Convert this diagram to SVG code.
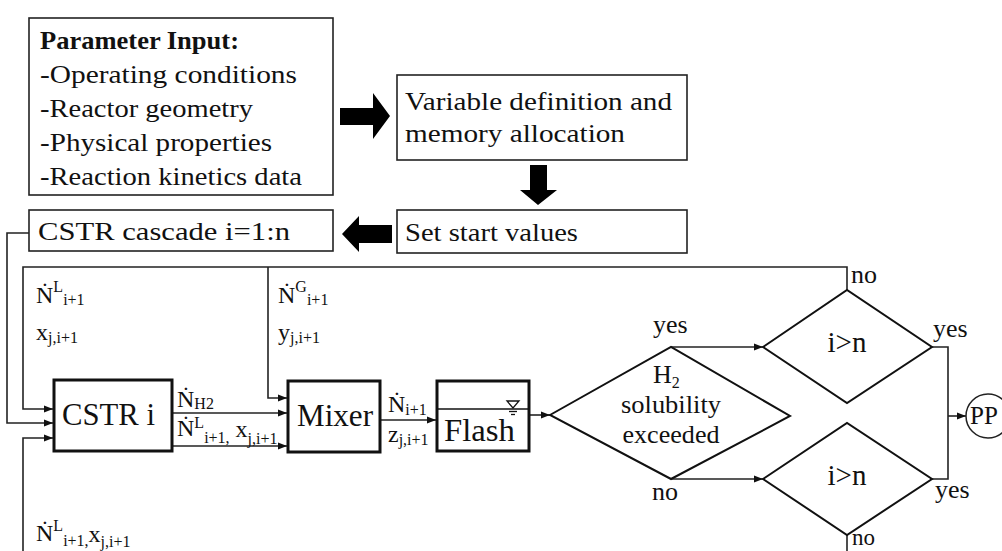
<svg xmlns="http://www.w3.org/2000/svg" width="1002" height="551" viewBox="0 0 1002 551" font-family="'Liberation Serif', 'DejaVu Serif', serif">
<style>
text{font-family:"Liberation Serif","DejaVu Serif",serif;fill:#111;}
.box{fill:#fff;stroke:#222;stroke-width:1.6;}
.tbox{fill:#fff;stroke:#111;stroke-width:3;}
.dia{fill:#fff;stroke:#111;stroke-width:2;}
.con{fill:none;stroke:#222;stroke-width:1.6;}
.big{fill:#000;}
.t26{font-size:26px;}
.t24{font-size:24px;}
.s16{font-size:16px;}
.mid{text-anchor:middle;}
</style>
<defs>
<marker id="ah" markerUnits="userSpaceOnUse" markerWidth="9" markerHeight="8" refX="9" refY="4" orient="auto">
<path d="M0,0.5 L9,4 L0,7.5 z" fill="#111"/>
</marker>
</defs>
<rect width="1002" height="551" fill="#fff"/>

<g id="connectors">
<path class="con" d="M29,233 H7 V423 H53" marker-end="url(#ah)"/>
<path class="con" d="M847,290 V267 H23 V409 H53" marker-end="url(#ah)"/>
<path class="con" d="M268,267 V398 H287" marker-end="url(#ah)"/>
<path class="con" d="M23,551 V438 H53" marker-end="url(#ah)"/>
<path class="con" d="M172,413 H287" marker-end="url(#ah)"/>
<path class="con" d="M172,446 H287" marker-end="url(#ah)"/>
<path class="con" d="M380,420 H436" marker-end="url(#ah)"/>
<path class="con" d="M529,415 H550" marker-end="url(#ah)"/>
<path class="con" d="M671,347 H763" marker-end="url(#ah)"/>
<path class="con" d="M671,479 H763" marker-end="url(#ah)"/>
<path class="con" d="M932,347 H948 V479 H932"/>
<path class="con" d="M948,416 H966" marker-end="url(#ah)"/>
<path class="con" d="M847,535 V551"/>
<polygon class="big" points="340,108 373,108 373,93 390,116 373,139 373,125 340,125"/>
<polygon class="big" points="530,165 547,165 547,190 557,190 538,205 520,190 530,190"/>
<polygon class="big" points="392,225 359,225 359,216 342,234 359,252 359,243 392,243"/>
</g>

<g id="param-input">
<rect class="box" x="29" y="18" width="304" height="177"/>
<text class="t26" x="40" y="49" font-weight="bold" textLength="199" lengthAdjust="spacingAndGlyphs">Parameter Input:</text>
<text class="t26" x="40" y="83" textLength="257" lengthAdjust="spacingAndGlyphs">-Operating conditions</text>
<text class="t26" x="40" y="117" textLength="213" lengthAdjust="spacingAndGlyphs">-Reactor geometry</text>
<text class="t26" x="40" y="151" textLength="232" lengthAdjust="spacingAndGlyphs">-Physical properties</text>
<text class="t26" x="40" y="185" textLength="262" lengthAdjust="spacingAndGlyphs">-Reaction kinetics data</text>
</g>

<g id="variable-definition">
<rect class="box" x="397" y="75" width="290" height="85"/>
<text class="t26" x="405" y="110" textLength="267" lengthAdjust="spacingAndGlyphs">Variable definition and</text>
<text class="t26" x="405" y="142" textLength="220" lengthAdjust="spacingAndGlyphs">memory allocation</text>
</g>

<g id="set-start-values">
<rect class="box" x="397" y="210" width="290" height="43"/>
<text class="t26" x="405" y="241" textLength="173" lengthAdjust="spacingAndGlyphs">Set start values</text>
</g>

<g id="cstr-cascade">
<rect class="box" x="29" y="210" width="304" height="41"/>
<text class="t26" x="38" y="240" textLength="252" lengthAdjust="spacingAndGlyphs">CSTR cascade i=1:n</text>
</g>

<g id="cstr-i">
<rect class="tbox" x="54" y="380" width="118" height="71"/>
<text x="62" y="425" font-size="31" textLength="93" lengthAdjust="spacingAndGlyphs">CSTR i</text>
</g>

<g id="mixer">
<rect class="tbox" x="288" y="381" width="92" height="71"/>
<text x="297" y="426" font-size="31" textLength="76" lengthAdjust="spacingAndGlyphs">Mixer</text>
</g>

<g id="flash">
<rect class="tbox" x="437" y="381" width="92" height="70"/>
<line x1="437" y1="409" x2="529" y2="409" stroke="#111" stroke-width="1.5"/>
<polygon points="507,401 519,401 513,408" fill="none" stroke="#111" stroke-width="1.3"/>
<line x1="509" y1="411.5" x2="517" y2="411.5" stroke="#111" stroke-width="1.3"/>
<line x1="511" y1="414.5" x2="515" y2="414.5" stroke="#111" stroke-width="1.3"/>
<text x="444" y="441" font-size="32" textLength="71" lengthAdjust="spacingAndGlyphs">Flash</text>
</g>

<g id="h2-solubility">
<polygon class="dia" points="550,415 671,347 790,416 671,479"/>
<text class="t26" x="653" y="383">H<tspan class="s16" dy="5">2</tspan></text>
<text class="t26 mid" x="671" y="413" textLength="100" lengthAdjust="spacingAndGlyphs">solubility</text>
<text class="t26 mid" x="671" y="443" textLength="97" lengthAdjust="spacingAndGlyphs">exceeded</text>
<text class="t26" x="653" y="333">yes</text>
<text class="t26" x="652" y="500">no</text>
</g>

<g id="check-upper">
<polygon class="dia" points="763,347 847,290 932,347 847,403"/>
<text class="mid" x="847" y="352" font-size="29">i&gt;n</text>
<text class="t26" x="851" y="283">no</text>
<text class="t26" x="933" y="337">yes</text>
</g>

<g id="check-lower">
<polygon class="dia" points="763,479 847,423 932,479 847,535"/>
<text class="mid" x="847" y="485" font-size="29">i&gt;n</text>
<text class="t26" x="935" y="498">yes</text>
<text x="852" y="545" font-size="23">no</text>
</g>

<g id="pp">
<circle cx="988" cy="416" r="22" fill="#fff" stroke="#222" stroke-width="1.5"/>
<text x="970" y="424" font-size="25">PP</text>
</g>

<g id="labels">
<text class="t24" x="36" y="303">Ṅ<tspan class="s16" y="292">L</tspan><tspan class="s16" y="305">i+1</tspan></text>
<text class="t24" x="36" y="340">x<tspan class="s16" y="343">j,i+1</tspan></text>
<text class="t24" x="278" y="303">Ṅ<tspan class="s16" y="292">G</tspan><tspan class="s16" y="305">i+1</tspan></text>
<text class="t24" x="278" y="340">y<tspan class="s16" y="343">j,i+1</tspan></text>
<text class="t24" x="177" y="407">Ṅ<tspan class="s16" y="409">H2</tspan></text>
<text class="t24" x="177" y="436">Ṅ<tspan class="s16" y="428">L</tspan><tspan class="s16" y="443">i+1,</tspan><tspan y="437"> x</tspan><tspan class="s16" y="444">j,i+1</tspan></text>
<text class="t24" x="388" y="412">Ṅ<tspan class="s16" y="415">i+1</tspan></text>
<text class="t24" x="388" y="442">z<tspan class="s16" y="445">j,i+1</tspan></text>
<text class="t24" x="36" y="541">Ṅ<tspan class="s16" y="531">L</tspan><tspan class="s16" y="546">i+1,</tspan><tspan y="542">x</tspan><tspan class="s16" y="547">j,i+1</tspan></text>
</g>
</svg>
